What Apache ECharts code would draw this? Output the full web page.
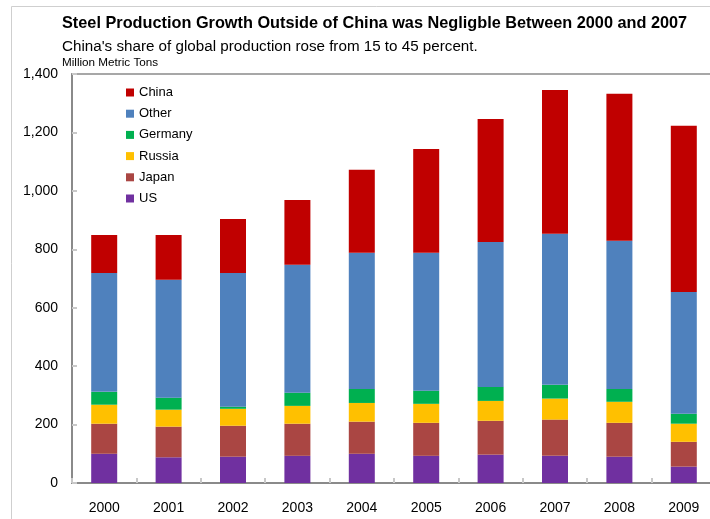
<!DOCTYPE html>
<html>
<head>
<meta charset="utf-8">
<script src="https://cdn.jsdelivr.net/npm/echarts@6/dist/echarts.min.js"></script>
<style>
  html, body { margin: 0; padding: 0; background: #fff; overflow: hidden; }
  /* plot area runs a little past the right edge of the window */
  #chart { width: 740px; height: 519px; }
</style>
</head>
<body>
<div id="chart"></div>
<script>
// Steel production by country, million metric tons
const years   = ['2000','2001','2002','2003','2004','2005','2006','2007','2008','2009'];
const us      = [100, 88, 90, 93, 100, 93, 97, 93, 90, 56];
const japan   = [103, 105, 106, 110, 110, 113, 116, 124, 116, 85];
const russia  = [65, 58, 58, 61, 64, 65, 68, 72, 72, 62];
const germany = [44, 41, 7, 45, 48, 45, 48, 47, 44, 34];
const other   = [407, 404, 458, 438, 466, 472, 496, 517, 507, 417];
const china   = [130, 153, 185, 222, 284, 355, 421, 492, 503, 569];
const yTicks  = { min: 0, max: 1400, interval: 200 };

const FONT = "'Liberation Sans', Arial, sans-serif";

const seriesDefs = [
  { name: 'US',      data: us,      color: '#7030A0' },
  { name: 'Japan',   data: japan,   color: '#AA4643' },
  { name: 'Russia',  data: russia,  color: '#FFC000' },
  { name: 'Germany', data: germany, color: '#00B050' },
  { name: 'Other',   data: other,   color: '#4F81BD' },
  { name: 'China',   data: china,   color: '#C00000' }
];

const chart = echarts.init(document.getElementById('chart'), null, { renderer: 'canvas' });

chart.setOption({
  animation: false,
  backgroundColor: '#fff',
  textStyle: { fontFamily: FONT },
  graphic: [
    {
      type: 'rect', left: 9, top: 4, silent: true,
      shape: { width: 760, height: 560 },
      style: { fill: 'none', stroke: '#cfcfcf', lineWidth: 1 }
    },
    {
      type: 'text', left: 62, top: 16,
      style: { text: 'Steel Production Growth Outside of China was Negligble Between 2000 and 2007',
               font: "bold 16.3px " + FONT, fill: '#000' }
    },
    {
      type: 'text', left: 62, top: 39,
      style: { text: "China's share of global production rose from 15 to 45 percent.",
               font: "15.2px " + FONT, fill: '#000' }
    },
    {
      type: 'text', left: 62, top: 57,
      style: { text: 'Million Metric Tons', font: "11.7px " + FONT, fill: '#000' }
    }
  ],
  legend: {
    orient: 'vertical',
    left: 121, top: 80.5,
    itemWidth: 8, itemHeight: 8,
    itemGap: 7.2,
    icon: 'rect',
    data: ['China', 'Other', 'Germany', 'Russia', 'Japan', 'US'],
    textStyle: { fontSize: 13, color: '#000', fontFamily: FONT, lineHeight: 14 }
  },
  grid: {
    left: 72, top: 74, width: 644, height: 409,
    show: true, borderColor: '#8a8a8a', borderWidth: 1.5, containLabel: false
  },
  xAxis: {
    type: 'category',
    data: years,
    axisLine: { show: true, lineStyle: { color: '#8a8a8a', width: 2 } },
    axisTick: { show: true, inside: true, length: 5, lineStyle: { color: '#c8c8c8', width: 2 } },
    axisLabel: { fontSize: 14, color: '#000', margin: 18, fontFamily: FONT }
  },
  yAxis: {
    type: 'value',
    min: yTicks.min, max: yTicks.max, interval: yTicks.interval,
    splitLine: { show: false },
    axisLine: { show: true, lineStyle: { color: '#8a8a8a', width: 2 } },
    axisTick: { show: true, inside: true, length: 5, lineStyle: { color: '#c8c8c8', width: 2 } },
    axisLabel: {
      fontSize: 14, color: '#000', margin: 14, fontFamily: FONT,
      formatter: v => v.toLocaleString('en-US')
    }
  },
  series: seriesDefs.map(s => ({
    name: s.name,
    type: 'bar',
    stack: 'total',
    barWidth: 26,
    data: s.data,
    itemStyle: { color: s.color },
    emphasis: { disabled: true }
  }))
});
</script>
</body>
</html>
